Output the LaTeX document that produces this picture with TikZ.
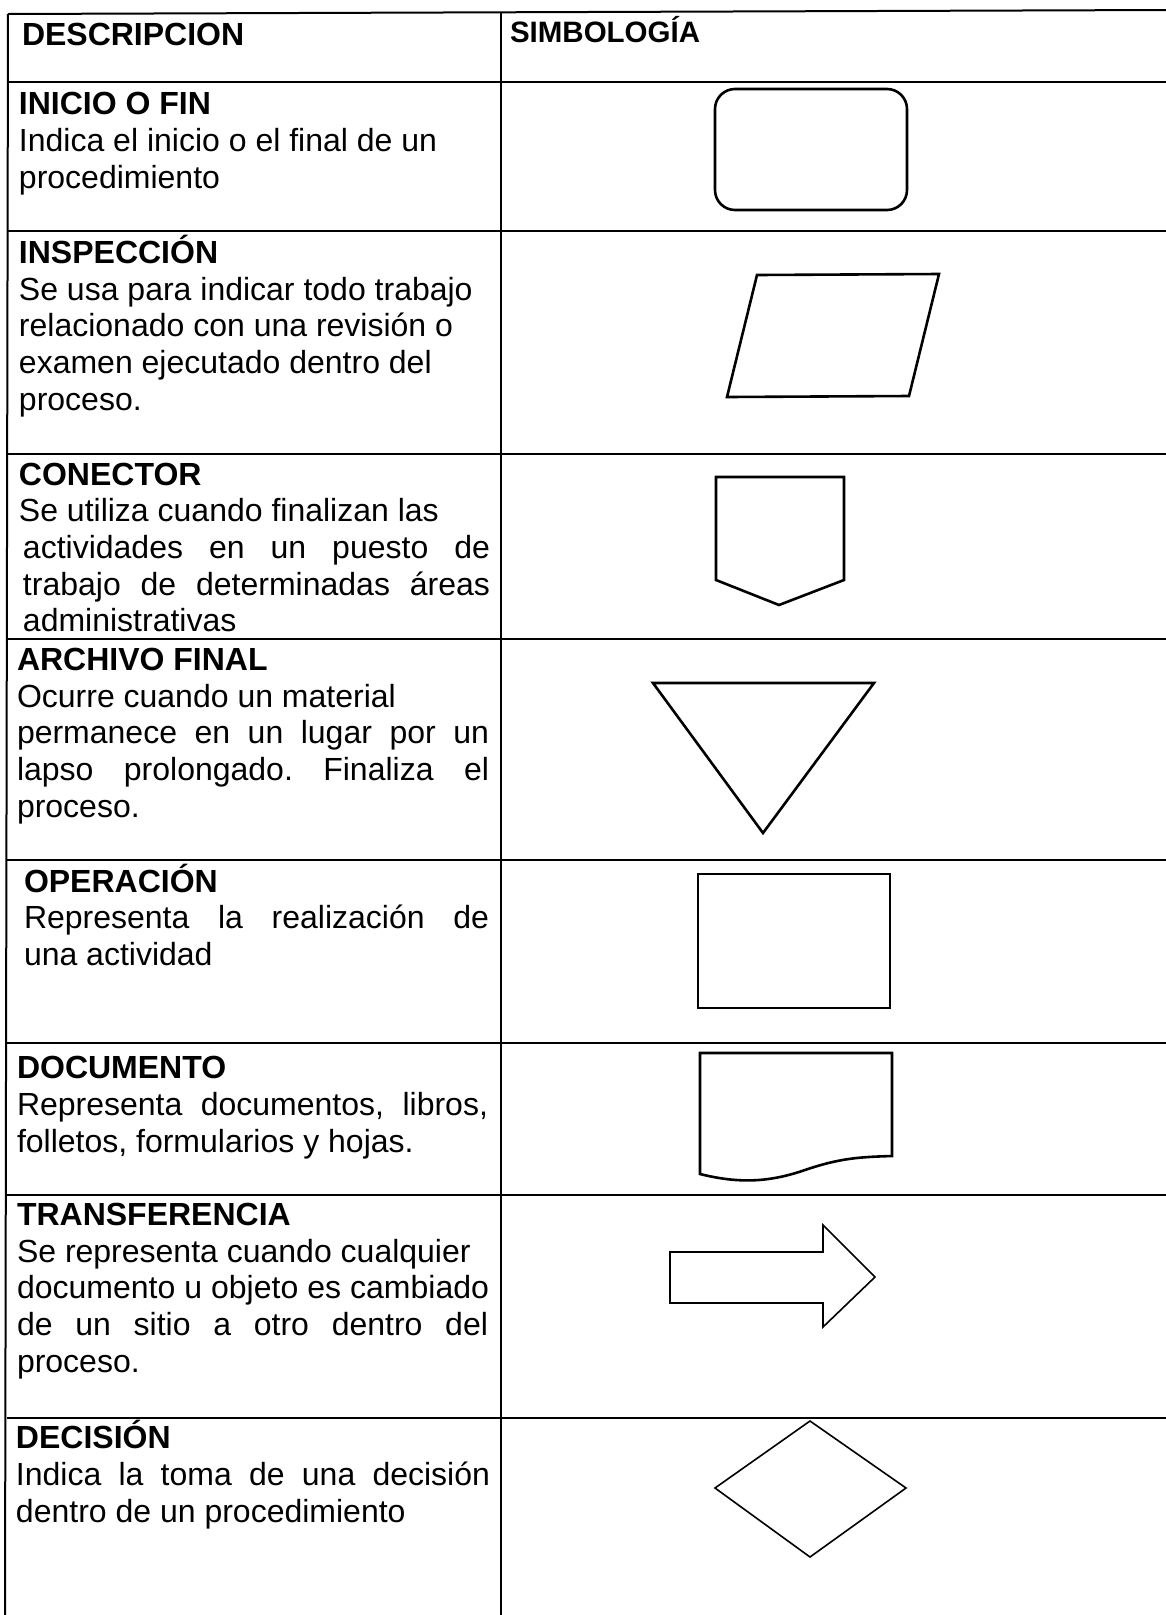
\documentclass[tikz,border=0pt]{standalone}
\usepackage{fontspec}
\setmainfont{Liberation Sans}
\newcommand\jline[2]{\makebox[#1pt][s]{#2}}
\frenchspacing
\begin{document}
\begin{tikzpicture}[x=1pt,y=-1pt,
  gridline/.style={line width=2pt},
  shp/.style={line width=2.6pt, line join=miter},
  shpthin/.style={line width=1.6pt, line join=miter},
  txt/.style={anchor=base west, inner sep=0pt, outer sep=0pt, font=\fontsize{32}{37}\selectfont},
  ttl/.style={txt, font=\fontsize{32}{37}\selectfont\bfseries},
  hdr/.style={txt, font=\fontsize{29.5}{34}\selectfont\bfseries}]
\useasboundingbox (0,0) rectangle (1166,1615);
% table
\draw[gridline] (8,14) -- (1166,10);
\draw[gridline] (8,14) -- (5,1615);
\draw[gridline] (501,12) -- (501,1615);
\foreach \yy in {82,231,454,639,860,1043,1195,1418}
  \draw[gridline] (7,\yy) -- (1166,\yy);
% header
\node[ttl] (h1) at (22,45) {DESCRIPCION};
\node[hdr] (h2) at (510,42) {SIMBOLOGÍA};
% row 1
\node[ttl] (r1t) at (19,114) {INICIO O FIN};
\node[txt] (r1a) at (19,151) {Indica el inicio o el final de un};
\node[txt] (r1b) at (19,188) {procedimiento};
\draw[shp, rounded corners=20pt] (715,89) rectangle (907,210);
% row 2
\node[ttl] (r2t) at (19,263) {INSPECCIÓN};
\node[txt] (r2a) at (19,300) {Se usa para indicar todo trabajo};
\node[txt] (r2b) at (19,336.5) {relacionado con una revisión o};
\node[txt] (r2c) at (19,373) {examen ejecutado dentro del};
\node[txt] (r2d) at (19,410) {proceso.};
\draw[shp] (757,275) -- (939,274) -- (909,396) -- (727,397) -- cycle;
% row 3
\node[ttl] (r3t) at (19,485) {CONECTOR};
\node[txt] (r3a) at (19,521.5) {Se utiliza cuando finalizan las};
\node[txt] (r3b) at (23,558) {\jline{467}{actividades en un puesto de}};
\node[txt] (r3c) at (23,595) {\jline{467}{trabajo de determinadas áreas}};
\node[txt] (r3d) at (23,631) {administrativas};
\draw[shp] (716,477) -- (844,477) -- (844,580) -- (779,605) -- (716,580) -- cycle;
% row 4
\node[ttl] (r4t) at (17,670) {ARCHIVO FINAL};
\node[txt] (r4a) at (17,707) {Ocurre cuando un material};
\node[txt] (r4b) at (17,743) {\jline{472}{permanece en un lugar por un}};
\node[txt] (r4c) at (17,780) {\jline{472}{lapso prolongado. Finaliza el}};
\node[txt] (r4d) at (17,817) {proceso.};
\draw[shp] (653,683) -- (874,683) -- (763,833) -- cycle;
% row 5
\node[ttl] (r5t) at (24,892) {OPERACIÓN};
\node[txt] (r5a) at (24,928.5) {\jline{465}{Representa la realización de}};
\node[txt] (r5b) at (24,965) {una actividad};
\draw[shp] (698,874) rectangle (890,1008);
% row 6
\node[ttl] (r6t) at (17,1078) {DOCUMENTO};
\node[txt] (r6a) at (17,1115) {\jline{471}{Representa documentos, libros,}};
\node[txt] (r6b) at (17,1152) {folletos, formularios y hojas.};
\draw[shp] (700,1174) -- (700,1053) -- (892,1053) -- (892,1156)
  .. controls (860,1157) and (840,1158) .. (805,1170)
  .. controls (770,1182) and (740,1184) .. (700,1174) -- cycle;
% row 7
\node[ttl] (r7t) at (17,1225) {TRANSFERENCIA};
\node[txt] (r7a) at (17,1262) {Se representa cuando cualquier};
\node[txt] (r7b) at (17,1298.5) {\jline{472}{documento u objeto es cambiado}};
\node[txt] (r7c) at (17,1335) {\jline{471}{de un sitio a otro dentro del}};
\node[txt] (r7d) at (17,1372) {proceso.};
\draw[shpthin] (670,1252) -- (823,1252) -- (823,1225) -- (875,1277) -- (823,1327) -- (823,1303) -- (670,1303) -- cycle;
% row 8
\node[ttl] (r8t) at (16,1448) {DECISIÓN};
\node[txt] (r8a) at (16,1485) {\jline{474}{Indica la toma de una decisión}};
\node[txt] (r8b) at (16,1522) {dentro de un procedimiento};
\draw[shpthin] (810,1421) -- (906,1488) -- (810,1557) -- (715,1488) -- cycle;
\end{tikzpicture}
\end{document}
